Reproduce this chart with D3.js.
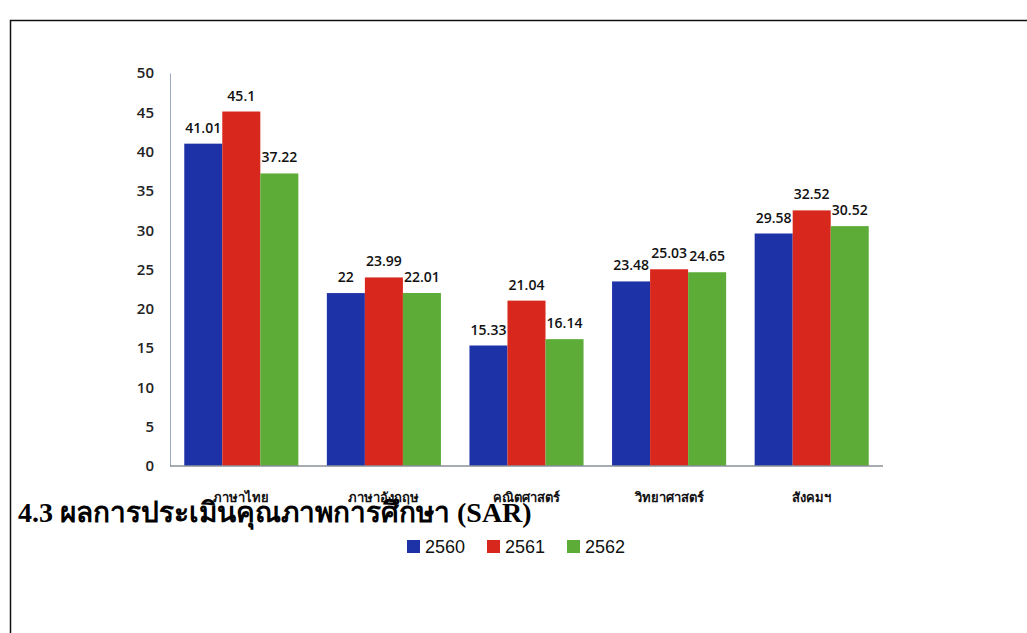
<!DOCTYPE html>
<html>
<head>
<meta charset="utf-8">
<script src="https://cdn.jsdelivr.net/npm/d3@7"></script>
<style>
  body { margin: 0; background: #fff; }
  svg { display: block; }
</style>
</head>
<body>
<script>
const categories = ["ภาษาไทย", "ภาษาอังกฤษ", "คณิตศาสตร์", "วิทยาศาสตร์", "สังคมฯ"];
const years = ["2560", "2561", "2562"];
const values2560 = [41.01, 22, 15.33, 23.48, 29.58];
const values2561 = [45.1, 23.99, 21.04, 25.03, 32.52];
const values2562 = [37.22, 22.01, 16.14, 24.65, 30.52];
const yTicks = [0, 5, 10, 15, 20, 25, 30, 35, 40, 45, 50];
const colors = ["#1e32a8", "#d8281d", "#5eac38"];
const title = "4.3 ผลการประเมินคุณภาพการศึกษา (SAR)";

const series = [values2560, values2561, values2562];
const rows = categories.map((c, i) => ({
  cat: c,
  vals: years.map((y, j) => ({ year: y, value: series[j][i] }))
}));

const width = 1027, height = 633;
const margin = { left: 170, right: 144, top: 73, bottom: 167 };

const svg = d3.select("body").append("svg")
  .attr("width", width)
  .attr("height", height);

// page frame
svg.append("rect")
  .attr("x", 10.5).attr("y", 20.5)
  .attr("width", width).attr("height", height)
  .attr("fill", "none").attr("stroke", "#111").attr("stroke-width", 1.5);

const x0 = d3.scaleBand()
  .domain(categories)
  .range([margin.left, width - margin.right])
  .paddingInner(0.2)
  .paddingOuter(0.1);

const x1 = d3.scaleBand()
  .domain(years)
  .range([0, x0.bandwidth()]);

const y = d3.scaleLinear()
  .domain([0, 50])
  .range([height - margin.bottom, margin.top]);

const color = d3.scaleOrdinal().domain(years).range(colors);

// y axis
const yAxis = svg.append("g")
  .attr("transform", "translate(" + margin.left + ",0)")
  .call(d3.axisLeft(y).tickValues(yTicks).tickSize(0).tickPadding(16));
yAxis.select(".domain").attr("stroke", "#9aa8c0");
yAxis.selectAll("text")
  .attr("font-family", "'Open Sans', sans-serif")
  .attr("font-size", 15)
  .attr("font-weight", 600)
  .attr("fill", "#222");

// bars
const groups = svg.append("g").selectAll("g")
  .data(rows)
  .join("g")
  .attr("transform", (d) => "translate(" + x0(d.cat) + ",0)");

groups.selectAll("rect")
  .data((d) => d.vals)
  .join("rect")
  .attr("x", (d) => x1(d.year))
  .attr("width", x1.bandwidth())
  .attr("y", (d) => y(d.value))
  .attr("height", (d) => y(0) - y(d.value))
  .attr("fill", (d) => color(d.year));

groups.selectAll("text")
  .data((d) => d.vals)
  .join("text")
  .attr("x", (d) => x1(d.year) + x1.bandwidth() / 2)
  .attr("y", (d) => y(d.value) - 11)
  .attr("text-anchor", "middle")
  .attr("font-family", "'Open Sans', sans-serif")
  .attr("font-size", 14)
  .attr("font-weight", 600)
  .attr("fill", "#111")
  .text((d) => d.value);

// x axis
const xAxis = svg.append("g")
  .attr("transform", "translate(0," + y(0) + ")")
  .call(d3.axisBottom(x0).tickSize(0).tickPadding(27));
xAxis.select(".domain").attr("stroke", "#8a8f99").attr("stroke-width", 1.5)
  .attr("d", "M" + margin.left + ",0H" + (width - margin.right));
xAxis.selectAll("text")
  .attr("font-family", "'Noto Sans', sans-serif")
  .attr("font-size", 13)
  .attr("font-weight", "bold")
  .attr("fill", "#111");

// title
svg.append("text")
  .attr("x", 18)
  .attr("y", 522)
  .attr("font-family", "'Liberation Serif', serif")
  .attr("font-size", 28)
  .attr("font-weight", "bold")
  .attr("fill", "#000")
  .text(title);

// legend
const legend = svg.append("g").selectAll("g")
  .data(years)
  .join("g")
  .attr("transform", (d, i) => "translate(" + (407 + i * 80) + ",540)");
legend.append("rect")
  .attr("width", 13).attr("height", 13)
  .attr("fill", (d) => color(d));
legend.append("text")
  .attr("x", 18).attr("y", 13)
  .attr("font-family", "'Liberation Sans', Arial, sans-serif")
  .attr("font-size", 18)
  .attr("fill", "#111")
  .text((d) => d);
</script>
</body>
</html>
